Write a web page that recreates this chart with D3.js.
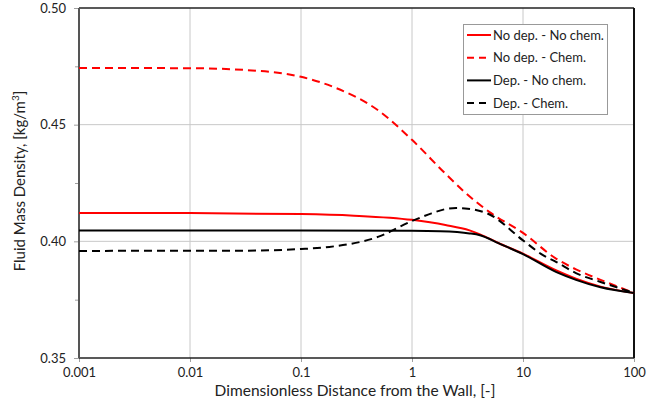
<!DOCTYPE html>
<html><head><meta charset="utf-8">
<script src="https://cdn.jsdelivr.net/npm/d3@7"></script>
<style>body{margin:0;background:#fff}svg{display:block}text{font-family:Lato,"Open Sans",sans-serif}</style>
</head><body>
<script>
const xTicks = [0.001, 0.01, 0.1, 1, 10, 100];
const xTickLabels = ["0.001", "0.01", "0.1", "1", "10", "100"];
const yTicks = [0.35, 0.40, 0.45, 0.50];
const yTickLabels = ["0.35", "0.40", "0.45", "0.50"];
const seriesNames = ["No dep. - No chem.", "No dep. - Chem.", "Dep. - No chem.", "Dep. - Chem."];

const xNoDepNoChem = [0.001, 0.01, 0.1, 0.3, 1, 2, 3.3, 4.1, 6, 10, 20, 30, 50, 100];
const yNoDepNoChem = [0.4121, 0.4121, 0.4117, 0.4110, 0.4092, 0.4070, 0.4047, 0.4030, 0.3993, 0.3947, 0.3875, 0.3840, 0.3806, 0.3779];
const xNoDepChem = [0.001, 0.01, 0.03, 0.1, 0.2, 0.5, 1, 2, 3, 5, 10, 20, 30, 50, 100];
const yNoDepChem = [0.4743, 0.4742, 0.4735, 0.4705, 0.4660, 0.4560, 0.4435, 0.4290, 0.4210, 0.4125, 0.4036, 0.3925, 0.3880, 0.3835, 0.3779];
const xDepNoChem = [0.001, 0.1, 1, 1.8, 3.3, 4.1, 6, 10, 20, 30, 50, 100];
const yDepNoChem = [0.4046, 0.4046, 0.4045, 0.4043, 0.4034, 0.4026, 0.3992, 0.3945, 0.3868, 0.3835, 0.3803, 0.3779];
const xDepChem = [0.001, 0.03, 0.1, 0.18, 0.5, 1, 1.5, 2, 2.5, 3, 5, 10, 15, 20, 30, 50, 100];
const yDepChem = [0.3959, 0.3960, 0.3967, 0.3976, 0.4020, 0.4087, 0.4120, 0.4138, 0.4143, 0.4141, 0.4115, 0.4004, 0.3942, 0.3911, 0.3864, 0.3826, 0.3779];

const W = 666, H = 407;
const L = 79, R = 634, T = 8, B = 358;
const svg = d3.select("body").append("svg").attr("width", W).attr("height", H);
const x = d3.scaleLog().domain([0.001, 100]).range([L, R]);
const y = d3.scaleLinear().domain([0.35, 0.50]).range([B, T]);

// grid
const g = svg.append("g");
g.selectAll("line.vg").data(xTicks.slice(1, -1)).join("line")
  .attr("x1", d => x(d)).attr("x2", d => x(d)).attr("y1", T).attr("y2", B)
  .attr("stroke", "#c8c8c8").attr("stroke-width", 1);
g.selectAll("line.hg").data([0.40, 0.45]).join("line")
  .attr("x1", L).attr("x2", R).attr("y1", d => y(d)).attr("y2", d => y(d))
  .attr("stroke", "#c8c8c8").attr("stroke-width", 1);

// axes
const xAxis = d3.axisBottom(x).tickValues(xTicks).tickFormat((d, i) => xTickLabels[i]).tickSize(4).tickPadding(6);
const xg = svg.append("g").attr("transform", `translate(0,${B})`).call(xAxis);
xg.select(".domain").remove();
xg.selectAll("line").attr("stroke", "#a0a0a0");
xg.selectAll("text").attr("font-size", 13).attr("fill", "#222");

const yAxis = d3.axisLeft(y).tickValues(yTicks).tickFormat((d, i) => yTickLabels[i]).tickSize(5).tickPadding(8);
const yg = svg.append("g").attr("transform", `translate(${L},0)`).call(yAxis);
yg.select(".domain").remove();
yg.selectAll("line").attr("stroke", "#a0a0a0");
yg.selectAll("text").attr("font-size", 13).attr("fill", "#222");
const yMinor = d3.axisLeft(y).tickValues([0.375, 0.425, 0.475]).tickFormat("").tickSize(4);
const ymg = svg.append("g").attr("transform", `translate(${L},0)`).call(yMinor);
ymg.select(".domain").remove();
ymg.selectAll("line").attr("stroke", "#a0a0a0");

// frame
svg.append("line").attr("x1", L).attr("x2", R).attr("y1", T).attr("y2", T).attr("stroke", "#222").attr("stroke-width", 1.5);
svg.append("line").attr("x1", L).attr("x2", R).attr("y1", B).attr("y2", B).attr("stroke", "#222").attr("stroke-width", 1.5);
svg.append("line").attr("x1", R).attr("x2", R).attr("y1", T).attr("y2", B).attr("stroke", "#111").attr("stroke-width", 2);
svg.append("line").attr("x1", L).attr("x2", L).attr("y1", T).attr("y2", B).attr("stroke", "#555").attr("stroke-width", 2);

// series
const series = [
  {xs: xNoDepNoChem, ys: yNoDepNoChem, color: "#ff0000", dash: null},
  {xs: xNoDepChem, ys: yNoDepChem, color: "#ff0000", dash: "8,5"},
  {xs: xDepNoChem, ys: yDepNoChem, color: "#000", dash: null},
  {xs: xDepChem, ys: yDepChem, color: "#000", dash: "8,5"}
];
const line = d3.line().x(d => x(d[0])).y(d => y(d[1])).curve(d3.curveMonotoneX);
series.forEach(s => {
  svg.append("path").datum(s.xs.map((v, i) => [v, s.ys[i]]))
    .attr("d", line).attr("fill", "none").attr("stroke", s.color)
    .attr("stroke-width", 2).attr("stroke-dasharray", s.dash);
});

// legend
const lg = svg.append("g");
lg.append("rect").attr("x", 463.5).attr("y", 24.5).attr("width", 144).attr("height", 90)
  .attr("fill", "#fff").attr("stroke", "#999").attr("stroke-width", 1);
series.forEach((s, i) => {
  const yy = 35 + i * 22.7;
  lg.append("line").attr("x1", 467).attr("x2", 491).attr("y1", yy).attr("y2", yy)
    .attr("stroke", s.color).attr("stroke-width", 2).attr("stroke-dasharray", s.dash ? "7,5" : null);
  lg.append("text").attr("x", 493).attr("y", yy).attr("dy", "0.35em")
    .attr("font-size", 13).attr("fill", "#222").text(seriesNames[i]);
});

// titles
svg.append("text").attr("x", 355).attr("y", 396).attr("text-anchor", "middle")
  .attr("font-size", 15.5).attr("fill", "#222").text("Dimensionless Distance from the Wall, [-]");
const yt = svg.append("text").attr("transform", `translate(25,181) rotate(-90)`)
  .attr("text-anchor", "middle").attr("font-size", 15).attr("fill", "#222");
yt.append("tspan").text("Fluid Mass Density, [kg/m");
yt.append("tspan").attr("font-size", 10).attr("dy", -6).text("3");
yt.append("tspan").attr("dy", 6).text("]");
</script>
</body></html>
